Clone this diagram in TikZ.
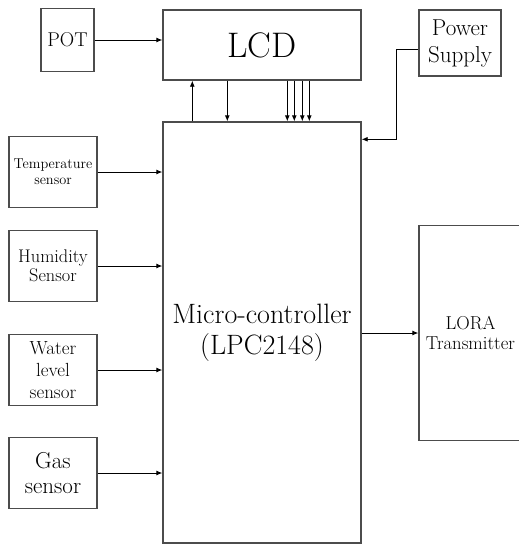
\documentclass[tikz,border=0pt]{standalone}
\usepackage{tikz}
\usetikzlibrary{arrows.meta, positioning, calc}

\begin{document}
\begin{tikzpicture}[
        x=1pt, y=-1pt,
        blockbox/.style={draw=black!70, line width=1.4pt, inner sep=0pt, align=center},
        sensorbox/.style={blockbox, minimum width=88pt, minimum height=71pt},
        arr/.style={-{Latex[length=6pt, width=5pt]}, line width=0.9pt, color=black}
      ]
        \useasboundingbox (0,0) rectangle (519,546);

        \node[blockbox, minimum width=53pt, minimum height=63pt, font=\fontsize{20}{22}\selectfont] (pot) at (67.5,40) {POT};
        \node[blockbox, minimum width=198pt, minimum height=70pt, font=\fontsize{35.5}{38}\selectfont] (lcd) at (262,45) {LCD};
        \node[blockbox, minimum width=82pt, minimum height=66pt, font=\fontsize{23}{27}\selectfont] (power) at (460,43) {Power\\Supply};
        \node[blockbox, minimum width=198pt, minimum height=421pt, font=\fontsize{28}{31}\selectfont] (mcu) at (262,332.5) {Micro-controller\\(LPC2148)};
        \node[blockbox, minimum width=103pt, minimum height=215pt, font=\fontsize{18.7}{20}\selectfont] (lora) at (470.5,333) {LORA\\Transmitter};

        \node[sensorbox, font=\fontsize{14.3}{16}\selectfont] (temp) at (53,172) {Temperature\\sensor};
        \node[sensorbox, font=\fontsize{18.3}{19.5}\selectfont] (humid) at (53,266) {Humidity\\Sensor};
        \node[sensorbox, font=\fontsize{19}{22}\selectfont] (water) at (53,370) {Water\\level\\sensor};
        \node[sensorbox, font=\fontsize{23}{25}\selectfont] (gas) at (53,473) {Gas\\sensor};

        \draw[arr] (pot.east) -- (pot.east -| lcd.west);
        \draw[arr] ([xshift=30pt]mcu.north west) -- ([xshift=30pt]lcd.south west);
        \draw[arr] ([xshift=65pt]lcd.south west) -- ([xshift=65pt]mcu.north west);
        \foreach \dx in {125,132,140,147}
          \draw[arr] ([xshift=\dx pt]lcd.south west) -- ([xshift=\dx pt]mcu.north west);
        \draw[arr] ([yshift=-6pt]power.west) -- ++(-22,0) |- ([yshift=-18pt]mcu.north east);

        \draw[arr] (temp.east) -- (temp.east -| mcu.west);
        \draw[arr] (humid.east) -- (humid.east -| mcu.west);
        \draw[arr] (water.east) -- (water.east -| mcu.west);
        \draw[arr] (gas.east) -- (gas.east -| mcu.west);
        \draw[arr] (mcu.east |- lora.west) -- (lora.west);
      \end{tikzpicture}
\end{document}
